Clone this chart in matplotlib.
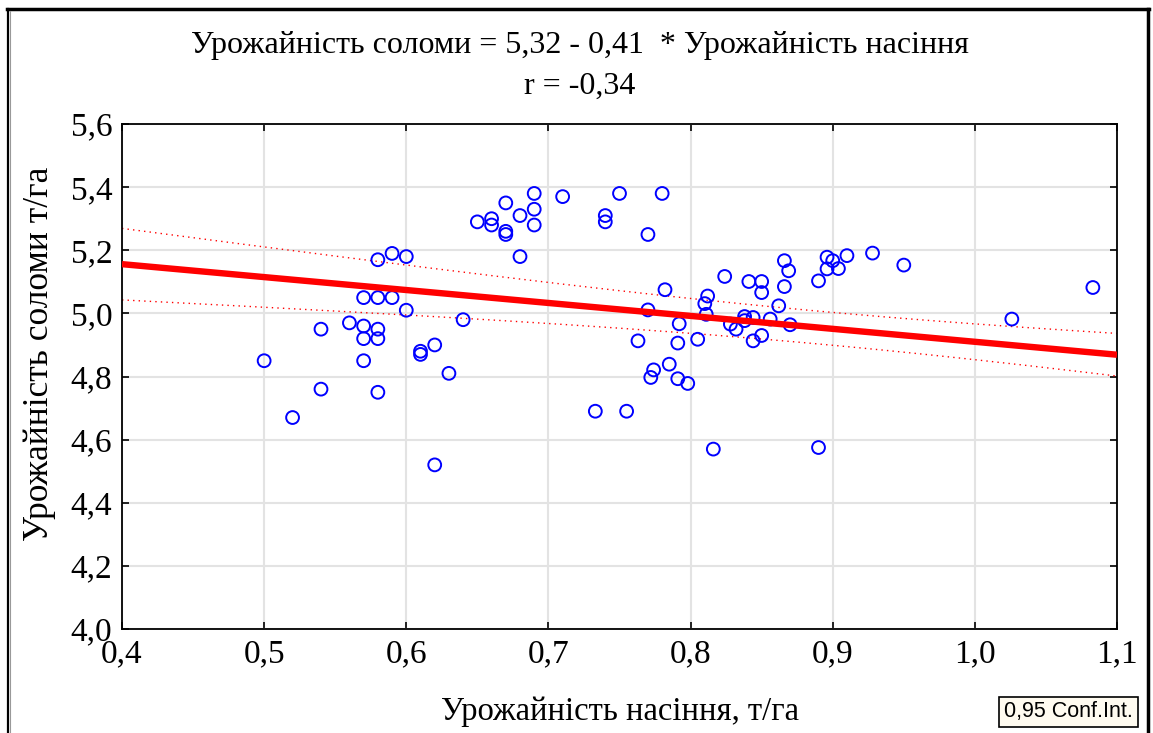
import numpy as np
import matplotlib
matplotlib.use("Agg")
import matplotlib.pyplot as plt
from matplotlib.lines import Line2D

# seed yield (t/ha) and straw yield (t/ha)
seed = [0.50, 0.52, 0.54, 0.54, 0.56, 0.57, 0.57, 0.57, 0.57, 0.58,
        0.58, 0.58, 0.58, 0.58, 0.59, 0.59, 0.60, 0.60, 0.61, 0.61,
        0.62, 0.62, 0.63, 0.64, 0.65, 0.66, 0.66, 0.67, 0.67, 0.67,
        0.68, 0.68, 0.69, 0.69, 0.69, 0.71, 0.733, 0.74, 0.74, 0.755,
        0.75, 0.77, 0.78,
        0.782, 0.770, 0.792, 0.763, 0.791, 0.785, 0.774, 0.772, 0.791, 0.798,
        0.816, 0.890, 0.824, 0.841, 0.850, 0.850, 0.866, 0.869, 0.866, 0.862,
        0.812, 0.810, 0.811, 0.805, 0.828, 0.832, 0.838, 0.838, 0.844, 0.844,
        0.850, 0.856, 0.870, 0.890, 0.896, 0.900, 0.896, 0.904, 0.910, 0.928,
        0.950, 1.026, 1.083]
straw = [4.85, 4.67, 4.95, 4.76, 4.97, 5.05, 4.96, 4.92, 4.85, 5.17,
         5.05, 4.95, 4.92, 4.75, 5.19, 5.05, 5.18, 5.01, 4.88, 4.87,
         4.90, 4.52, 4.81, 4.98, 5.29, 5.30, 5.28, 5.35, 5.26, 5.25,
         5.31, 5.18, 5.38, 5.33, 5.28, 5.37, 4.69, 5.31, 5.29, 4.69,
         5.38, 5.25, 5.38,
         5.075, 5.011, 4.967, 4.913, 4.906, 4.839, 4.821, 4.797, 4.793, 4.778,
         4.570, 4.575, 5.117, 5.101, 5.101, 5.066, 5.167, 5.135, 5.085, 5.024,
         5.055, 5.031, 4.997, 4.918, 4.966, 4.950, 4.990, 4.977, 4.987, 4.913,
         4.930, 4.982, 4.964, 5.103, 5.178, 5.167, 5.141, 5.142, 5.183, 5.191,
         5.153, 4.982, 5.082]

# regression as reported in the chart title (fit includes points outside the view)
INTERCEPT = 5.32
SLOPE = -0.41
# summary stats for the 0.95 confidence band
N_OBS = 100
X_MEAN = 0.89
SXX = 6.4
RESID_SD = 0.262
T_CRIT = 1.984

X_TICKS = [0.4, 0.5, 0.6, 0.7, 0.8, 0.9, 1.0, 1.1]
Y_TICKS = [4.0, 4.2, 4.4, 4.6, 4.8, 5.0, 5.2, 5.4, 5.6]

TITLE_1 = "Урожайність соломи = 5,32 - 0,41  * Урожайність насіння"
TITLE_2 = "r = -0,34"
XLABEL = "Урожайність насіння, т/га"
YLABEL = "Урожайність соломи т/га"
SERIF = ["Liberation Serif", "DejaVu Serif"]
W, H = 1153, 733


def comma(v, _):
    return f"{v:.1f}".replace(".", ",")


x = np.array(seed)
y = np.array(straw)

xs = np.linspace(0.4, 1.1, 200)
ys = INTERCEPT + SLOPE * xs
half = T_CRIT * RESID_SD * np.sqrt(1 / N_OBS + (xs - X_MEAN) ** 2 / SXX)

fig = plt.figure(figsize=(11.53, 7.33), dpi=100)
fig.patch.set_facecolor("white")
ax = fig.add_axes([0.1058, 0.1419, 0.8630, 0.6889])

ax.grid(True, color="#e3e3e3", linewidth=1.5, zorder=0)
ax.scatter(x, y, s=85, facecolors="none", edgecolors="#0000ff",
           linewidths=1.4, zorder=3)
ax.plot(xs, ys, color="#ff0000", linewidth=4.6, zorder=4, solid_capstyle="butt")
ax.plot(xs, ys + half, color="#ff0000", linewidth=1.0, linestyle=(0, (1, 3)), zorder=2)
ax.plot(xs, ys - half, color="#ff0000", linewidth=1.0, linestyle=(0, (1, 3)), zorder=2)

ax.set_xlim(0.4, 1.1)
ax.set_ylim(4.0, 5.6)
ax.set_xticks(X_TICKS)
ax.set_yticks(Y_TICKS)
ax.xaxis.set_major_formatter(plt.FuncFormatter(comma))
ax.yaxis.set_major_formatter(plt.FuncFormatter(comma))
ax.tick_params(direction="in", length=5, width=1.2, top=True, right=True,
               labelsize=24, pad=7, colors="black")
for lab in ax.get_xticklabels() + ax.get_yticklabels():
    lab.set_fontfamily(SERIF)
for sp in ax.spines.values():
    sp.set_linewidth(1.3)
    sp.set_color("black")

ax.set_xlabel(XLABEL, fontsize=23.5, family=SERIF, labelpad=20)
fig.text(40 / W, 1 - 354 / H, YLABEL, rotation=90, ha="center", va="center",
         fontsize=25.5, family=SERIF)
fig.text(0.503, 1 - 45 / H, TITLE_1, ha="center", va="center",
         fontsize=23, family=SERIF)
fig.text(0.503, 1 - 86 / H, TITLE_2, ha="center", va="center",
         fontsize=23, family=SERIF)

# conf. int. tag
fig.text(1068.5 / W, 1 - 712 / H, "0,95 Conf.Int.", ha="center", va="center",
         fontsize=15.5, family=["Liberation Sans", "DejaVu Sans"],
         bbox=dict(boxstyle="square,pad=0.22", facecolor="#fffbf0",
                   edgecolor="black", linewidth=1.2))

# window frame
fig.add_artist(Line2D([7 / W, 1149 / W], [1 - 9 / H, 1 - 9 / H], color="black",
                      linewidth=2.5, transform=fig.transFigure))
fig.add_artist(Line2D([8 / W, 8 / W], [0, 1 - 9 / H], color="black",
                      linewidth=1.6, transform=fig.transFigure))
fig.add_artist(Line2D([10.5 / W, 10.5 / W], [0, 1 - 11 / H], color="#999999",
                      linewidth=0.8, transform=fig.transFigure))
fig.add_artist(Line2D([1148 / W, 1148 / W], [0, 1 - 9 / H], color="black",
                      linewidth=2.5, transform=fig.transFigure))

fig.savefig("out.png", dpi=100, facecolor=fig.get_facecolor())
